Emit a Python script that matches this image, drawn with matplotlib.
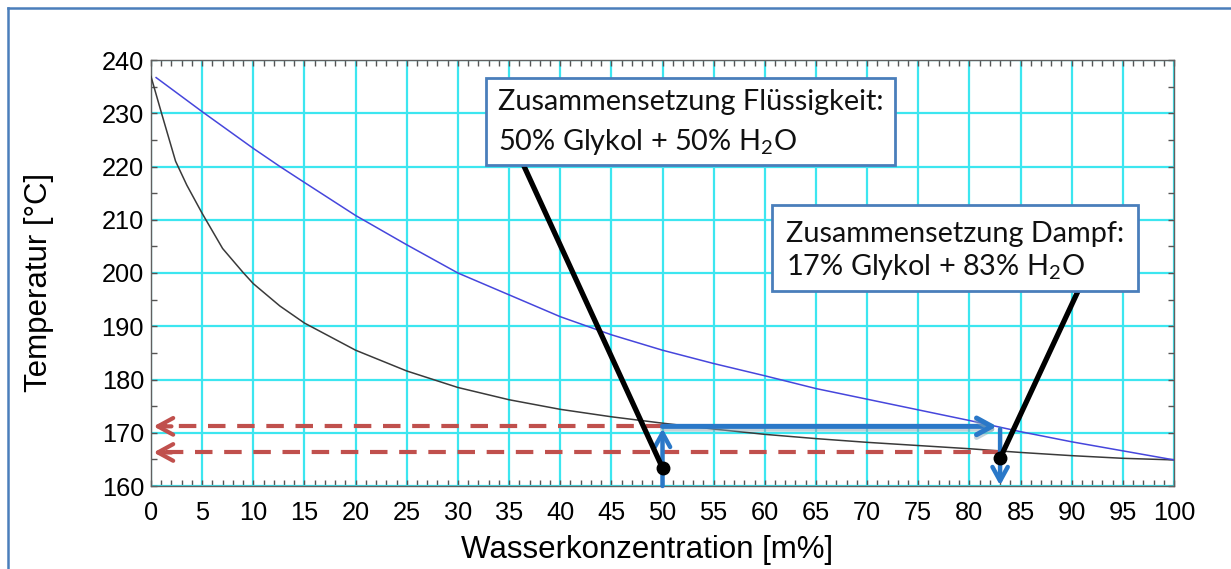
import matplotlib
matplotlib.use("Agg")
import matplotlib.pyplot as plt
from matplotlib.patches import Rectangle
from matplotlib.ticker import MultipleLocator
import matplotlib.patheffects as pe

# ---------------- data ----------------
liquid_x = [0, 1, 2.4, 3.5, 5, 7, 9, 10, 12.6, 15, 20, 25, 30, 35, 40, 45, 50, 55, 60,
            65, 70, 75, 80, 85, 90, 95, 100]
liquid_T = [236.9, 230.2, 221.0, 216.5, 211.2, 204.6, 200.1, 198.0, 193.8, 190.6, 185.5,
            181.6, 178.5, 176.2, 174.4, 173.0, 171.8, 170.7, 169.7, 168.9, 168.2, 167.6,
            167.0, 166.3, 165.7, 165.2, 164.9]
vapor_x = [0.5, 5, 10, 12.6, 15, 20, 25, 30, 35, 40, 45, 50, 55, 60, 65, 70, 75, 80,
           85, 90, 95, 100]
vapor_T = [236.7, 230.3, 223.4, 220.0, 217.0, 210.8, 205.3, 200.0, 195.9, 191.8, 188.4,
           185.5, 183.0, 180.7, 178.3, 176.3, 174.3, 172.3, 170.2, 168.3, 166.6, 164.9]

x_liquid = 50          # composition liquid [m% water]
x_vapor = 83           # composition vapour [m% water]
T_tie = 171.2          # tie-line temperature
T_low = 166.3          # lower temperature line
dot_T = [163.4, 165.2]  # leader-line end points

xticks = list(range(0, 101, 5))
yticks = list(range(160, 241, 10))

box1_lines = ["Zusammensetzung Flüssigkeit:", "50% Glykol + 50% H$_2$O"]
box2_lines = ["Zusammensetzung Dampf:", "17% Glykol + 83% H$_2$O"]
xlabel = "Wasserkonzentration [m%]"
ylabel = "Temperatur [°C]"

# ---------------- style ----------------
plt.rcParams['font.family'] = ['Liberation Sans', 'DejaVu Sans']
plt.rcParams['mathtext.fontset'] = 'custom'
plt.rcParams['mathtext.rm'] = 'Lato'
plt.rcParams['mathtext.it'] = 'Lato:italic'
plt.rcParams['mathtext.bf'] = 'Lato:bold'

BLUE_LINE = '#4646dc'
DARK = '#3a3a3a'
RED = '#c0504d'
ARROW_BLUE = '#2a78c8'
BOX_EDGE = '#4a7ebb'
GRID = '#3ce6f0'

fig = plt.figure(figsize=(12.31, 5.69), dpi=100)
fig.patch.set_facecolor('white')

# outer frame (blue border, top and left)
fig.add_artist(plt.Line2D([8/1231, 1.0], [1-8/569, 1-8/569], transform=fig.transFigure,
                          color=BOX_EDGE, lw=1.8))
fig.add_artist(plt.Line2D([8/1231, 8/1231], [0, 1-8/569], transform=fig.transFigure,
                          color=BOX_EDGE, lw=1.8))

ax = fig.add_axes([151/1231, 1-486/569, 1023/1231, 426/569])
ax.set_xlim(0, 100)
ax.set_ylim(160, 240)
ax.set_xticks(xticks)
ax.set_yticks(yticks)
ax.xaxis.set_minor_locator(MultipleLocator(1))
ax.yaxis.set_minor_locator(MultipleLocator(5))
ax.tick_params(which='both', direction='in', top=True, right=True, color='#555555',
               length=4, width=1)
ax.tick_params(axis='x', labelsize=18.3, pad=11)
ax.tick_params(axis='y', labelsize=18.3, pad=5)
for s in ax.spines.values():
    s.set_color('#606060')
    s.set_linewidth(1.0)
ax.grid(True, which='major', color=GRID, lw=1.6, zorder=0)
ax.set_axisbelow(True)

ax.set_xlabel(xlabel, fontsize=22.5, va='baseline')
ax.xaxis.set_label_coords(0.485, (486-558)/426)
ax.set_ylabel(ylabel, fontsize=22.5, va='center')
ax.yaxis.set_label_coords((39-151)/1023, (486-282.5)/426)

# curves
ax.plot(liquid_x, liquid_T, color=DARK, lw=1.1, zorder=3)
ax.plot(vapor_x, vapor_T, color=BLUE_LINE, lw=1.1, zorder=3)

# red dashed temperature lines with open arrow heads at the axis
dash = (4.2, 2.8)
ax.plot([x_liquid, 1.2], [T_tie, T_tie], color=RED, lw=3, dashes=dash, zorder=4)
ax.plot([x_vapor, 1.2], [T_low, T_low], color=RED, lw=3, dashes=dash, zorder=4)
for T in (T_tie, T_low):
    ax.annotate('', xy=(0.25, T), xytext=(2.0, T),
                arrowprops=dict(arrowstyle='->,head_length=1.1,head_width=0.6',
                                color=RED, lw=3, shrinkA=0, shrinkB=0), zorder=5)

# blue arrows
ax.annotate('', xy=(x_vapor - 0.3, T_tie), xytext=(x_liquid, T_tie),
            arrowprops=dict(arrowstyle='->,head_length=1.1,head_width=0.6',
                            color=ARROW_BLUE, lw=3.6, shrinkA=0, shrinkB=0,
                            path_effects=[pe.SimpleLineShadow(offset=(0, -2.0), shadow_color='#8aa6b4', alpha=0.5, linewidth=3.6),
                                          pe.Normal()]),
            zorder=6)
ax.annotate('', xy=(x_liquid, T_tie - 0.4), xytext=(x_liquid, 160),
            arrowprops=dict(arrowstyle='->,head_length=1.0,head_width=0.55',
                            color=ARROW_BLUE, lw=3.2, shrinkA=0, shrinkB=0), zorder=6,
            annotation_clip=False)
ax.annotate('', xy=(x_vapor, 160.1), xytext=(x_vapor, T_tie - 0.5),
            arrowprops=dict(arrowstyle='->,head_length=1.0,head_width=0.55',
                            color=ARROW_BLUE, lw=3.2, shrinkA=0, shrinkB=0), zorder=6,
            annotation_clip=False)

# leader lines and dots
ax.plot([36.0, x_liquid], [222.0, dot_T[0]], color='black', lw=3.8, zorder=7,
        solid_capstyle='round')
ax.plot([91.2, x_vapor], [199.0, dot_T[1]], color='black', lw=3.8, zorder=7,
        solid_capstyle='round')
ax.plot([x_liquid, x_vapor], dot_T, 'o', color='black', ms=9, zorder=8, linestyle='none')

# text boxes
def tbox(x0, x1, y0, y1, tx, lines, base_y):
    ax.add_patch(Rectangle((x0, y0), x1 - x0, y1 - y0, facecolor='white',
                           edgecolor=BOX_EDGE, lw=2.0, zorder=9))
    for line, by in zip(lines, base_y):
        ax.text(tx, by, line, fontsize=20.8, family=['Lato', 'DejaVu Sans'],
                va='baseline', ha='left', zorder=10, color='#111111')

tbox(32.75, 72.7, 220.3, 236.6, 33.9, box1_lines, [240 - (110-60)/5.325, 240 - (150-60)/5.325])
tbox(60.7, 96.5, 196.7, 212.8, 62.1, box2_lines, [240 - (241.7-60)/5.325, 240 - (275-60)/5.325])

fig.savefig('out.png', dpi=100, facecolor='white')
